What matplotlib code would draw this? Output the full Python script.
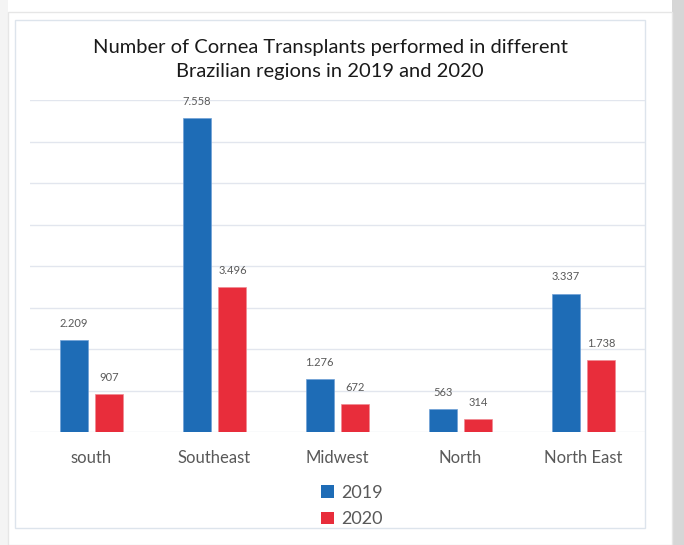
import numpy as np
import matplotlib.pyplot as plt
from matplotlib.patches import Rectangle, Patch

regions = ["south", "Southeast", "Midwest", "North", "North East"]
values_2019 = [2209, 7558, 1276, 563, 3337]
values_2020 = [907, 3496, 672, 314, 1738]
labels_2019 = ["2.209", "7.558", "1.276", "563", "3.337"]
labels_2020 = ["907", "3.496", "672", "314", "1.738"]

BLUE = "#1e6cb6"
RED = "#e82d3b"
GRAY_TEXT = "#595959"

plt.rcParams["font.family"] = ["Lato", "DejaVu Sans"]

W, H = 684, 545
fig = plt.figure(figsize=(W / 100, H / 100), dpi=100)
fig.patch.set_facecolor("white")


def px_rect(x0, y0, x1, y1, **kw):
    return Rectangle((x0 / W, 1 - y1 / H), (x1 - x0) / W, (y1 - y0) / H,
                     transform=fig.transFigure, zorder=-5, **kw)


# page shadow on the right and card outlines
fig.add_artist(px_rect(672, 0, 684, 545, facecolor="#d6d6d6", edgecolor="none"))
fig.add_artist(px_rect(0, 0, 8, 545, facecolor="#f4f4f4", edgecolor="none"))
fig.add_artist(px_rect(8, 12, 672, 545, facecolor="white", edgecolor="#e6e6e6", linewidth=1))
fig.add_artist(px_rect(15, 20, 645, 528, facecolor="white", edgecolor="#dde4ec", linewidth=1))

ax = fig.add_axes([30 / W, 1 - 432 / H, (645 - 30) / W, (432 - 100) / H])
ax.set_facecolor("none")
ax.set_zorder(5)

x = np.arange(len(regions))
width = 0.228
offset = 0.146

bars1 = ax.bar(x - offset, values_2019, width, color=BLUE, edgecolor="#6fa0d6", linewidth=0.5, zorder=3)
bars2 = ax.bar(x + offset, values_2020, width, color=RED, edgecolor="#f08a92", linewidth=0.5, zorder=3)

for bar, lab in zip(bars1, labels_2019):
    ax.annotate(lab, (bar.get_x() + bar.get_width() / 2, bar.get_height()),
                xytext=(0, 8), textcoords="offset points", ha="center", va="bottom",
                fontsize=8, color=GRAY_TEXT)
for bar, lab in zip(bars2, labels_2020):
    ax.annotate(lab, (bar.get_x() + bar.get_width() / 2, bar.get_height()),
                xytext=(0, 8), textcoords="offset points", ha="center", va="bottom",
                fontsize=8, color=GRAY_TEXT)

ax.set_xlim(-0.5, len(regions) - 0.5)
ax.set_ylim(0, 8000)
ax.set_yticks(np.arange(0, 8001, 1000))
ax.yaxis.grid(True, color="#e2e6ee", linewidth=1, zorder=0)
ax.set_axisbelow(True)
ax.set_yticklabels([])
ax.tick_params(axis="y", length=0)
ax.set_xticks(x)
ax.set_xticklabels(regions, fontsize=12, color=GRAY_TEXT)
ax.tick_params(axis="x", length=0, pad=13)
for s in ax.spines.values():
    s.set_visible(False)

fig.text(330 / W, 1 - 60 / H,
         "Number of Cornea Transplants performed in different\nBrazilian regions in 2019 and 2020",
         ha="center", va="center", fontsize=14.5, color="#1a1a1a", linespacing=1.5)

handles = [Patch(facecolor=BLUE, label="2019"), Patch(facecolor=RED, label="2020")]
fig.legend(handles=handles, loc="center", bbox_to_anchor=(352 / W, 1 - 506 / H),
           frameon=False, fontsize=13, handlelength=0.7, handleheight=0.7,
           handletextpad=0.4, labelspacing=0.6, labelcolor=GRAY_TEXT)

plt.savefig("out.png", dpi=100)
plt.close()
